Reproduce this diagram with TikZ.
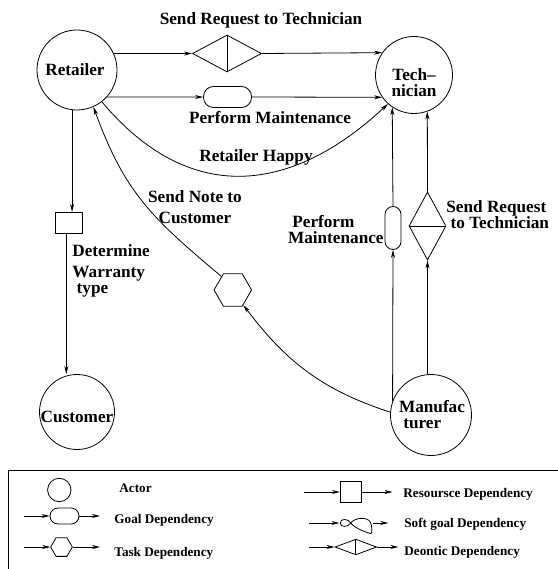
\documentclass[tikz,border=0pt]{standalone}
\usepackage{fontspec}
\setmainfont{Liberation Serif}
\usetikzlibrary{positioning, arrows.meta, shapes.geometric}

\begin{document}
\begin{tikzpicture}[
    x=1pt, y=1pt,
    line width=0.8pt,
    actor/.style={circle, draw, inner sep=0pt},
    goal/.style={rectangle, draw, rounded corners=10pt, inner sep=0pt, minimum width=48pt, minimum height=21pt},
    res/.style={rectangle, draw, inner sep=0pt, minimum width=27pt, minimum height=21pt},
    task/.style={regular polygon, regular polygon sides=6, draw, inner sep=0pt, minimum size=37.5pt},
    deon/.style={diamond, draw, inner sep=0pt, minimum width=69pt, minimum height=37pt},
    dep/.style={-{Stealth[length=8pt,width=4pt,inset=2.5pt]}},
    lbl/.style={font=\bfseries\fontsize{17.2}{16}\selectfont, inner sep=0pt},
    key/.style={font=\bfseries\fontsize{13.2}{15}\selectfont, inner sep=0pt, anchor=west}
]
\useasboundingbox (0,0) rectangle (557,-569);

% actors
\node[actor, minimum size=80pt] (ret) at (77,-70) {};
\node[actor, minimum size=77pt] (tech) at (414,-75) {};
\node[actor, minimum size=75pt] (cust) at (77,-412) {};
\node[actor, minimum size=81pt] (man) at (431,-415) {};
\node[lbl] (rett) at (75,-70) {Retailer};
\node[lbl, align=center] (techt) at (414,-83) {Tech–\\nician};
\node[lbl] (custt) at (77,-416.5) {Customer};
\node[lbl, align=left] (mant) at (432,-415) {Manufac\\\ turer};

% retailer to technician
\node[deon] (d1) at (227,-53.5) {};
\draw (d1.north) -- (d1.south);
\node[lbl] (d1t) at (261,-20) {Send Request to Technician};
\draw[dep] (ret.24) -- (d1.west);
\draw[dep] (d1.east) -- (tech.145);

\node[goal] (g1) at (227.5,-97) {};
\node[lbl] (g1t) at (270,-117.5) {Perform Maintenance};
\draw[dep] (ret.-42) -- (g1.west);
\draw[dep] (g1.east) -- (tech.-145);

\draw[dep] (ret.-52) to[out=-50, in=-137, looseness=1.2] (tech.-132);
\node[lbl] (happy) at (256,-157) {Retailer Happy};

% retailer to customer
\node[res] (r1) at (69.3,-222.8) {};
\draw[dep] (ret.-97) -- (ret.-97 |- r1.north);
\draw[dep] ([xshift=-3pt]r1.south) -- ([xshift=-3pt]r1.south |- cust.north);
\node[lbl, align=left, anchor=north west] (r1t) at (72,-244.3) {Determine\\[5pt]Warranty\\\ type};

% manufacturer to retailer
\node[task] (h1) at (232.8,-290) {};
\draw[dep] (man.176) to[out=162, in=-53] (h1.-55);
\draw[dep] (h1.130) to[out=140, in=-70, looseness=1.1] (ret.-66);
\node[lbl, align=center] (h1t) at (195,-207) {Send Note to\\[4.6pt]Customer};

% manufacturer to technician
\node[goal, minimum width=16pt, minimum height=43pt, rounded corners=8pt] (g2) at (393,-228) {};
\draw[dep] (man.160) -- (g2.south);
\draw[dep] (g2.north) -- (tech.-124);
\node[lbl, align=left, anchor=east] (g2t) at (384,-230) {\ Perform\\Maintenance};

\node[deon, minimum width=37pt, minimum height=68pt] (d2) at (427.5,-226) {};
\draw (d2.west) -- (d2.east);
\draw[dep] (man.95) -- (d2.south);
\draw[dep] (d2.north) -- (tech.-70);
\node[lbl, align=left, anchor=west] (d2t) at (446,-215) {Send Request\\\ to Technician};

% legend
\draw (8.5,-580) |- (570,-470.7);

\node[actor, minimum size=23.4pt] (la) at (59.3,-490) {};
\node[key] (lat) at (119,-488) {Actor};

\coordinate (ga) at (24,-516);
\node[goal, minimum width=29pt, minimum height=16pt, rounded corners=8pt] (lg) at (64.5,-516) {};
\coordinate (gb) at (100,-516);
\draw[dep] (ga) -- (lg.west);
\draw[dep] (lg.east) -- (gb);
\node[key] (lgt) at (114,-520) {Goal Dependency};

\coordinate (ta) at (24,-547);
\node[task, minimum size=21.6pt] (lt) at (61.5,-547) {};
\coordinate (tb) at (100,-547);
\draw[dep] (ta) -- (lt.west);
\draw[dep] (lt.east) -- (tb);
\node[key] (ltt) at (114,-553.5) {Task Dependency};

\coordinate (ra) at (303.7,-492);
\node[res, minimum width=21.3pt, minimum height=21pt] (lr) at (351,-492) {};
\coordinate (rb) at (392.5,-492);
\draw[dep] (ra) -- (lr.west);
\draw[dep] (lr.east) -- (rb);
\node[key] (lrt) at (403,-494) {Resoursce Dependency};

\coordinate (sa) at (309.3,-523);
\node[minimum width=33pt, minimum height=16pt, inner sep=0pt] (ls) at (356.3,-523) {};
\draw[shift={(ls.center)}] (-5.5,0) .. controls (-8,4.5) and (-16,5) .. (-16,0)
    .. controls (-16,-5) and (-8,-4) .. (-5.5,0)
    .. controls (-2,5) and (10,7) .. (14,1)
    .. controls (16,-3) and (16,-11) .. (14.5,-10.5)
    .. controls (12,-10) and (-1,-6) .. (-5.5,0);
\coordinate (sb) at (388.3,-523);
\draw[dep] (sa) -- (ls.west);
\draw[dep] (ls.east) -- (sb);
\node[key] (lst) at (404,-524.5) {Soft goal Dependency};

\coordinate (da) at (309.3,-547);
\node[deon, minimum width=41.7pt, minimum height=15.7pt] (ld) at (355.8,-547) {};
\draw (ld.north) -- (ld.south);
\coordinate (db) at (398.3,-547);
\draw[dep] (da) -- (ld.west);
\draw[dep] (ld.east) -- (db);
\node[key] (ldt) at (404,-552) {Deontic Dependency};
\end{tikzpicture}
\end{document}
